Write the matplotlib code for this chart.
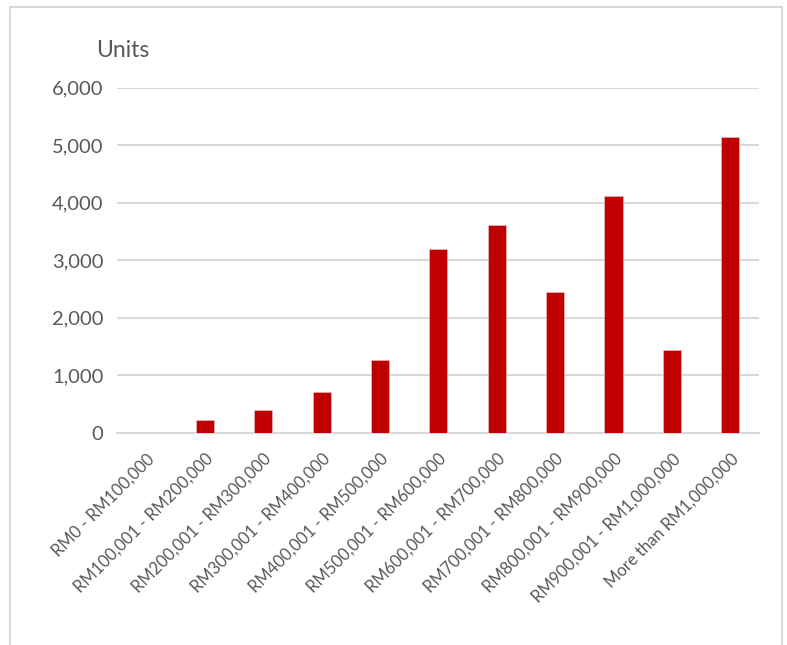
import numpy as np
import matplotlib.pyplot as plt
from matplotlib.patches import Rectangle
from matplotlib.ticker import FuncFormatter

# price bands and number of units in each
price_bands = ["RM0 - RM100,000", "RM100,001 - RM200,000", "RM200,001 - RM300,000",
               "RM300,001 - RM400,000", "RM400,001 - RM500,000", "RM500,001 - RM600,000",
               "RM600,001 - RM700,000", "RM700,001 - RM800,000", "RM800,001 - RM900,000",
               "RM900,001 - RM1,000,000", "More than RM1,000,000"]
units = [0, 226, 393, 706, 1263, 3193, 3610, 2440, 4110, 1437, 5136]
y_ticks = [0, 1000, 2000, 3000, 4000, 5000, 6000]

plt.rcParams['font.family'] = ['Lato', 'DejaVu Sans']
text_col = "#595959"
grid_col = "#d9d9d9"

fig = plt.figure(figsize=(7.87, 6.45), dpi=100)
ax = fig.add_axes([0.149, 0.329, 0.816, 0.535])

x = np.arange(len(price_bands))
ax.bar(x, units, width=0.31, color="#c00000", edgecolor="#f2c6c6", linewidth=0.4, zorder=3)

ax.set_xlim(-0.5, len(price_bands) - 0.5)
ax.set_ylim(0, 6000)
ax.set_yticks(y_ticks)
ax.yaxis.set_major_formatter(FuncFormatter(lambda v, p: f"{int(v):,}"))
ax.grid(axis="y", color=grid_col, linewidth=1.5, zorder=0)
ax.set_xticks(x)
ax.set_xticklabels(price_bands, rotation=45, ha="right", va="top",
                   rotation_mode="anchor", fontsize=12, color=text_col)
ax.tick_params(axis="y", labelsize=14.5, colors=text_col, length=0, pad=10)
ax.tick_params(axis="x", length=0, pad=13)
for s in ["top", "right", "left"]:
    ax.spines[s].set_visible(False)
ax.spines["bottom"].set_color(grid_col)
ax.spines["bottom"].set_linewidth(1.5)

fig.text(0.122, 0.921, "Units", fontsize=16.5, color=text_col, ha="left", va="center")

# outer chart border
fig.patches.append(Rectangle((10 / 787, -0.05), 772 / 787, 1.05 - 7 / 645,
                             transform=fig.transFigure, fill=False,
                             edgecolor=grid_col, linewidth=1.5))

fig.savefig("out.png", dpi=100, facecolor="white")
